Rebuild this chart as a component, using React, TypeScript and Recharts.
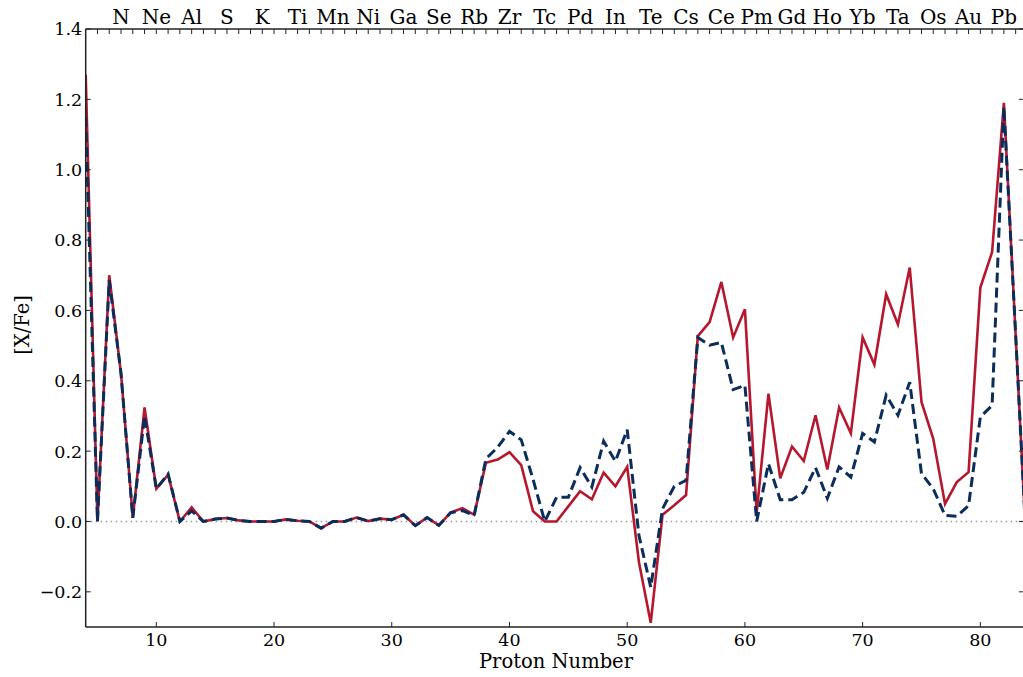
import React from 'react';
import { LineChart, Line, XAxis, YAxis, ReferenceLine } from 'recharts';

// Proton numbers (Z) of the plotted species
const protonNumbers = [
  4, 5, 6, 7, 8, 9, 10, 11, 12, 13, 14, 15, 16, 17, 18, 19, 20, 21, 22, 23,
  24, 25, 26, 27, 28, 29, 30, 31, 32, 33, 34, 35, 36, 37, 38, 39, 40, 41, 42, 43,
  44, 45, 46, 47, 48, 49, 50, 51, 52, 53, 54, 55, 56, 57, 58, 59, 60, 61, 62, 63,
  64, 65, 66, 67, 68, 69, 70, 71, 72, 73, 74, 75, 76, 77, 78, 79, 80, 81, 82, 83, 84,
];

// [X/Fe], solid red model
const redValues = [
  1.27, 0.0, 0.70, 0.42, 0.01, 0.324, 0.093, 0.133, 0.0, 0.04, 0.0, 0.007, 0.01, 0.003, 0.0, 0.0, 0.0, 0.006, 0.002, 0.0,
  -0.019, 0.0, 0.0, 0.011, 0.001, 0.008, 0.005, 0.019, -0.012, 0.011, -0.011, 0.025, 0.038, 0.019, 0.167, 0.176, 0.197, 0.16, 0.029, 0.0,
  0.0, 0.043, 0.086, 0.063, 0.139, 0.1, 0.155, -0.116, -0.288, 0.019, 0.046, 0.075, 0.527, 0.567, 0.681, 0.523, 0.603, 0.025, 0.363, 0.123,
  0.213, 0.172, 0.302, 0.148, 0.324, 0.251, 0.523, 0.446, 0.646, 0.56, 0.722, 0.34, 0.235, 0.05, 0.112, 0.14, 0.665, 0.766, 1.19, 0.53, -0.13,
];

// [X/Fe], dashed blue model
const blueValues = [
  1.15, 0.0, 0.686, 0.42, 0.01, 0.30, 0.093, 0.135, 0.0, 0.03, 0.0, 0.007, 0.01, 0.003, 0.0, 0.0, 0.0, 0.006, 0.002, 0.0,
  -0.019, 0.0, 0.0, 0.011, 0.001, 0.008, 0.005, 0.019, -0.012, 0.011, -0.011, 0.025, 0.031, 0.017, 0.178, 0.211, 0.256, 0.232, 0.12, 0.0,
  0.069, 0.069, 0.153, 0.098, 0.228, 0.171, 0.261, -0.04, -0.187, 0.036, 0.1, 0.117, 0.523, 0.501, 0.509, 0.375, 0.387, 0.0, 0.164, 0.062,
  0.062, 0.083, 0.153, 0.066, 0.155, 0.126, 0.25, 0.226, 0.359, 0.302, 0.396, 0.136, 0.093, 0.017, 0.015, 0.045, 0.297, 0.33, 1.179, 0.53, -0.13,
];

const bottomTicks = [10, 20, 30, 40, 50, 60, 70, 80];
const yTicks = [-0.2, 0, 0.2, 0.4, 0.6, 0.8, 1.0, 1.2, 1.4];
const topMinorTicks = [
  5, 6, 7, 8, 9, 10, 11, 12, 13, 14, 15, 16, 17, 18, 19, 20, 21, 22, 23, 24,
  25, 26, 27, 28, 29, 30, 31, 32, 33, 34, 35, 36, 37, 38, 39, 40, 41, 42, 43, 44,
  45, 46, 47, 48, 49, 50, 51, 52, 53, 54, 55, 56, 57, 58, 59, 60, 61, 62, 63, 64,
  65, 66, 67, 68, 69, 70, 71, 72, 73, 74, 75, 76, 77, 78, 79, 80, 81, 82, 83,
];
const elementZ = [7, 10, 13, 16, 19, 22, 25, 28, 31, 34, 37, 40, 43, 46, 49, 52, 55, 58, 61, 64, 67, 70, 73, 76, 79, 82];
const elementSymbols = ['N', 'Ne', 'Al', 'S', 'K', 'Ti', 'Mn', 'Ni', 'Ga', 'Se', 'Rb', 'Zr', 'Tc', 'Pd', 'In', 'Te', 'Cs', 'Ce', 'Pm', 'Gd', 'Ho', 'Yb', 'Ta', 'Os', 'Au', 'Pb'];

const xDomain: [number, number] = [4, 83.7];
const yDomain: [number, number] = [-0.3, 1.4];

const data = protonNumbers.map((z, i) => ({ z, red: redValues[i], blue: blueValues[i] }));

const FONT = '"DejaVu Serif", serif';
const TICK_FS = 17.5;
const SPINE = '#222';

const fmtY = (v: number) => {
  const s = Math.abs(v).toFixed(1);
  return v < -1e-9 ? '\u2212' + s : s;
};

const BottomTick = (props: any) => {
  const { x, y, payload } = props;
  return (
    <g>
      <line x1={x} y1={y} x2={x} y2={y - 5} stroke={SPINE} strokeWidth={1} />
      <text x={x} y={y + 19} textAnchor="middle" fontFamily={FONT} fontSize={TICK_FS} fill="#000">
        {payload.value}
      </text>
    </g>
  );
};

const TopTick = (props: any) => {
  const { x, y, payload } = props;
  const idx = elementZ.indexOf(payload.value);
  return (
    <g>
      <line x1={x} y1={y} x2={x} y2={y + 5} stroke={SPINE} strokeWidth={1} />
      {idx >= 0 && (
        <text x={x} y={y - 5} textAnchor="middle" fontFamily={FONT} fontSize={20} fill="#000">
          {elementSymbols[idx]}
        </text>
      )}
    </g>
  );
};

const LeftTick = (props: any) => {
  const { x, y, payload } = props;
  return (
    <g>
      <line x1={x} y1={y} x2={x + 5} y2={y} stroke={SPINE} strokeWidth={1} />
      <text x={x - 3.5} y={y + 6.4} textAnchor="end" fontFamily={FONT} fontSize={TICK_FS} fill="#000">
        {fmtY(payload.value)}
      </text>
    </g>
  );
};

const RightTick = (props: any) => {
  const { x, y } = props;
  return (
    <g>
      <line x1={x} y1={y} x2={x - 5} y2={y} stroke={SPINE} strokeWidth={1} />
    </g>
  );
};

export default function App() {
  return (
    <div
      style={{
        position: 'absolute',
        left: 0,
        top: 0,
        width: 1023,
        height: 677,
        overflow: 'hidden',
        background: '#fff',
      }}
    >
      <LineChart
        width={1030}
        height={677}
        data={data}
        margin={{ top: 0, right: 0, bottom: 20, left: 0 }}
      >
        <XAxis
          xAxisId="bottom"
          dataKey="z"
          type="number"
          domain={xDomain}
          allowDataOverflow
          ticks={bottomTicks}
          interval={0}
          height={30}
          tickSize={0}
          tickMargin={0}
          tickLine={false}
          axisLine={{ stroke: SPINE, strokeWidth: 1.5 }}
          tick={BottomTick}
        />
        <XAxis
          xAxisId="top"
          orientation="top"
          dataKey="z"
          type="number"
          domain={xDomain}
          allowDataOverflow
          ticks={topMinorTicks}
          interval={0}
          height={29}
          tickSize={0}
          tickMargin={0}
          tickLine={false}
          axisLine={{ stroke: SPINE, strokeWidth: 1.5 }}
          tick={TopTick}
        />
        <YAxis
          yAxisId="left"
          type="number"
          domain={yDomain}
          allowDataOverflow
          ticks={yTicks}
          interval={0}
          width={85.7}
          tickSize={0}
          tickMargin={0}
          tickLine={false}
          axisLine={{ stroke: SPINE, strokeWidth: 1.5 }}
          tick={LeftTick}
        />
        <YAxis
          yAxisId="right"
          orientation="right"
          type="number"
          domain={yDomain}
          allowDataOverflow
          ticks={yTicks}
          interval={0}
          width={6.1}
          tickSize={0}
          tickMargin={0}
          tickLine={false}
          axisLine={{ stroke: SPINE, strokeWidth: 1.5 }}
          tick={RightTick}
        />
        <ReferenceLine
          xAxisId="bottom"
          yAxisId="left"
          y={0}
          stroke="#999"
          strokeWidth={1.5}
          strokeDasharray="1.5 3.5"
        />
        <Line
          xAxisId="bottom"
          yAxisId="left"
          dataKey="red"
          type="linear"
          stroke="#b5172e"
          strokeWidth={2.6}
          dot={false}
          activeDot={false}
          isAnimationActive={false}
        />
        <Line
          xAxisId="bottom"
          yAxisId="left"
          dataKey="blue"
          type="linear"
          stroke="#0b2d5b"
          strokeWidth={3}
          strokeDasharray="10 5"
          dot={false}
          activeDot={false}
          isAnimationActive={false}
        />
      </LineChart>
      <svg
        width={1023}
        height={677}
        style={{ position: 'absolute', left: 0, top: 0, pointerEvents: 'none' }}
      >
        <text x={556} y={668} textAnchor="middle" fontFamily={FONT} fontSize={19.5} fill="#000">
          Proton Number
        </text>
        <text
          x={0}
          y={0}
          transform="translate(28.5,325) rotate(-90)"
          textAnchor="middle"
          fontFamily={FONT}
          fontSize={19.5}
          fill="#000"
        >
          [X/Fe]
        </text>
      </svg>
    </div>
  );
}
